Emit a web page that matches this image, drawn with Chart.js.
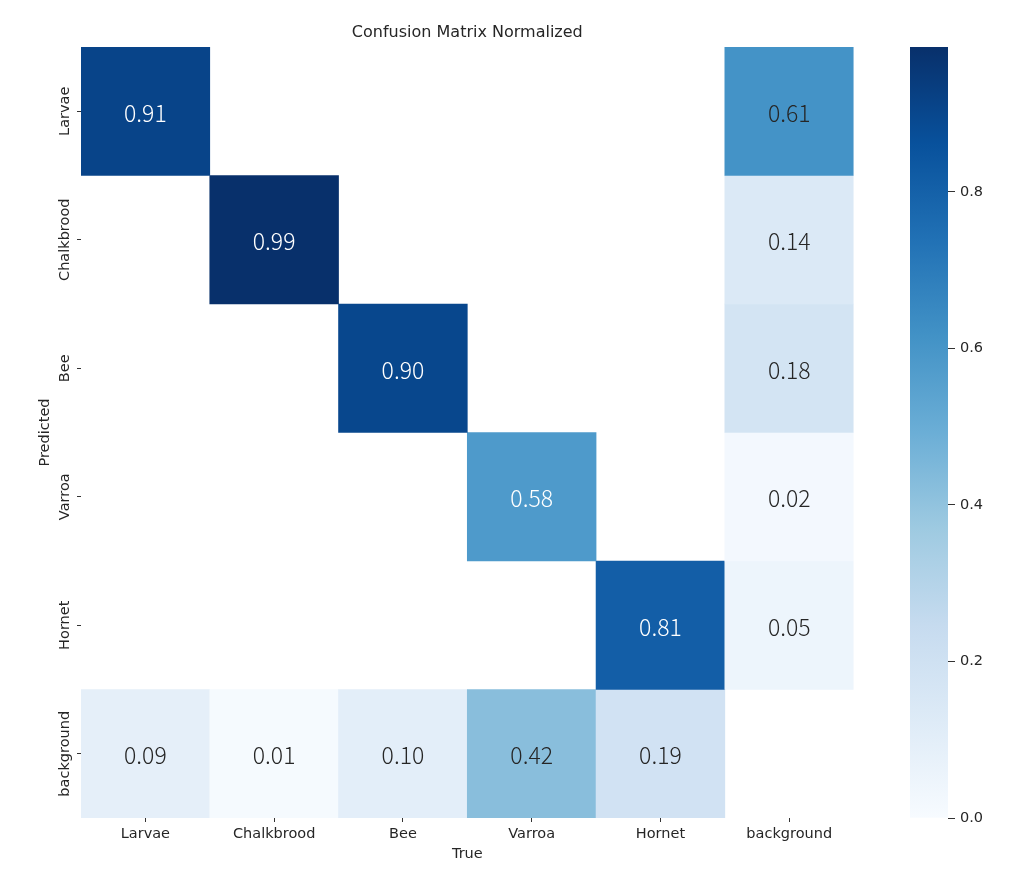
<!DOCTYPE html>
<html>
<head>
<meta charset="utf-8">
<script src="https://cdn.jsdelivr.net/npm/chart.js@4.4.1/dist/chart.umd.min.js"></script>
<style>
  html, body { margin: 0; padding: 0; background: #ffffff; }
  #wrap { position: relative; width: 1015px; height: 879px; }
  #main { position: absolute; left: 0; top: 0; }
  #cbar { position: absolute; left: 880px; top: 0; }
</style>
</head>
<body>
<div id="wrap">
  <canvas id="main" width="1015" height="879"></canvas>
  <canvas id="cbar" width="135" height="879"></canvas>
</div>
<script>
// ---- data ----
const trueLabels = ['Larvae', 'Chalkbrood', 'Bee', 'Varroa', 'Hornet', 'background'];
const predictedLabels = ['Larvae', 'Chalkbrood', 'Bee', 'Varroa', 'Hornet', 'background'];
const rowLarvae     = [0.91, null, null, null, null, 0.61];
const rowChalkbrood = [null, 0.99, null, null, null, 0.14];
const rowBee        = [null, null, 0.90, null, null, 0.18];
const rowVarroa     = [null, null, null, 0.58, null, 0.02];
const rowHornet     = [null, null, null, null, 0.81, 0.05];
const rowBackground = [0.09, 0.01, 0.10, 0.42, 0.19, null];
const colorbarTicks = [0.0, 0.2, 0.4, 0.6, 0.8];
const colorMax = 0.985;

const matrix = [rowLarvae, rowChalkbrood, rowBee, rowVarroa, rowHornet, rowBackground];

// ---- Blues colormap ----
const BLUES = ['#f7fbff', '#deebf7', '#c6dbef', '#9ecae1', '#6baed6', '#4292c6', '#2171b5', '#08519c', '#08306b'];
function hexToRgb(h) { return [parseInt(h.slice(1,3),16), parseInt(h.slice(3,5),16), parseInt(h.slice(5,7),16)]; }
const BLUES_RGB = BLUES.map(hexToRgb);
function blues(t) {
  t = Math.max(0, Math.min(1, t));
  const s = t * (BLUES_RGB.length - 1);
  const i = Math.min(Math.floor(s), BLUES_RGB.length - 2);
  const f = s - i;
  const a = BLUES_RGB[i], b = BLUES_RGB[i + 1];
  return [0,1,2].map(k => Math.round(a[k] + (b[k] - a[k]) * f));
}
function rgbStr(c) { return 'rgb(' + c.join(',') + ')'; }
function luminance(c) {
  const lin = c.map(v => { v /= 255; return v <= 0.03928 ? v / 12.92 : Math.pow((v + 0.055) / 1.055, 2.4); });
  return 0.2126 * lin[0] + 0.7152 * lin[1] + 0.0722 * lin[2];
}

const LABEL_FONT = { family: 'DejaVu Sans', size: 14.5, weight: 'normal' };
const TITLE_FONT = { family: 'DejaVu Sans', size: 16, weight: 'normal' };
const TEXT_COLOR = '#262626';
const TICK_COLOR = '#333333';

const datasets = matrix.map((row, r) => ({
  label: predictedLabels[r],
  data: row.map(v => v == null ? null : [r, r + 1]),
  backgroundColor: row.map(v => v == null ? 'rgba(0,0,0,0)' : rgbStr(blues(v / colorMax))),
  borderWidth: 0,
  grouped: false,
  barPercentage: 1.0,
  categoryPercentage: 1.0
}));

const annotatePlugin = {
  id: 'annotate',
  afterDatasetsDraw(chart) {
    const ctx = chart.ctx;
    ctx.save();
    ctx.textAlign = 'center';
    ctx.textBaseline = 'middle';
    ctx.font = '300 23px "Noto Sans CJK KR", "DejaVu Sans", sans-serif';
    matrix.forEach((row, r) => {
      const meta = chart.getDatasetMeta(r);
      row.forEach((v, c) => {
        if (v == null) return;
        const el = meta.data[c];
        const x = el.x;
        const y = (el.y + el.base) / 2;
        const col = blues(v / colorMax);
        const light = luminance(col) < 0.408 && c < trueLabels.length - 1;
        ctx.fillStyle = light ? '#ffffff' : TEXT_COLOR;
        ctx.fillText(v.toFixed(2), x, y + 2);
      });
    });
    // y tick labels (rotated)
    const ys = chart.scales.y;
    ctx.font = '14.5px "DejaVu Sans"';
    ctx.fillStyle = TEXT_COLOR;
    predictedLabels.forEach((lab, r) => {
      const py = ys.getPixelForValue(r + 0.5);
      ctx.save();
      ctx.translate(65, py);
      ctx.rotate(-Math.PI / 2);
      ctx.fillText(lab, 0, 0);
      ctx.restore();
    });
    ctx.restore();
  }
};

new Chart(document.getElementById('main'), {
  type: 'bar',
  data: { labels: trueLabels, datasets },
  options: {
    responsive: false,
    animation: false,
    devicePixelRatio: 1,
    layout: { padding: { left: 0, right: 161.4, top: 0, bottom: 0 } },
    plugins: {
      legend: { display: false },
      tooltip: { enabled: false },
      title: {
        display: true,
        text: 'Confusion Matrix Normalized',
        fullSize: false,
        color: TEXT_COLOR,
        font: TITLE_FONT,
        padding: { top: 23.4, bottom: 4.4 }
      }
    },
    scales: {
      x: {
        type: 'category',
        position: 'bottom',
        offset: true,
        grid: { drawOnChartArea: false, drawTicks: true, tickLength: 4, color: TICK_COLOR, offset: false },
        border: { display: false },
        ticks: { color: TEXT_COLOR, font: LABEL_FONT, padding: 4, maxRotation: 0, minRotation: 0 },
        title: { display: true, text: 'True', color: TEXT_COLOR, font: LABEL_FONT, padding: { top: 0, bottom: 16.3 } },
        afterFit(s) { s.height = 61; }
      },
      y: {
        type: 'linear',
        position: 'left',
        min: 0,
        max: 6,
        reverse: true,
        afterBuildTicks(s) { s.ticks = predictedLabels.map((_, i) => ({ value: i + 0.5 })); },
        grid: { drawOnChartArea: false, drawTicks: true, tickLength: 4, color: TICK_COLOR },
        border: { display: false },
        ticks: { display: false },
        title: { display: true, text: 'Predicted', color: TEXT_COLOR, font: LABEL_FONT, padding: { top: 36.3, bottom: 0 } },
        afterFit(s) { s.width = 81; }
      }
    }
  },
  plugins: [annotatePlugin]
});

// ---- colorbar ----
new Chart(document.getElementById('cbar'), {
  type: 'bar',
  data: {
    labels: ['scale'],
    datasets: [{
      data: [[0, colorMax]],
      borderWidth: 0,
      barPercentage: 1.0,
      categoryPercentage: 1.0,
      backgroundColor(ctx) {
        const chart = ctx.chart;
        const area = chart.chartArea;
        if (!area) return BLUES[4];
        const g = chart.ctx.createLinearGradient(0, area.bottom, 0, area.top);
        BLUES.forEach((c, i) => g.addColorStop(i / (BLUES.length - 1), c));
        return g;
      }
    }]
  },
  options: {
    responsive: false,
    animation: false,
    devicePixelRatio: 1,
    layout: { padding: { left: 30, right: 0, top: 47, bottom: 61 } },
    plugins: { legend: { display: false }, tooltip: { enabled: false }, title: { display: false } },
    scales: {
      x: { type: 'category', display: false, offset: true },
      y: {
        type: 'linear',
        position: 'right',
        min: 0,
        max: colorMax,
        afterBuildTicks(s) { s.ticks = colorbarTicks.map(v => ({ value: v })); },
        grid: { drawOnChartArea: false, drawTicks: true, tickLength: 7, color: TICK_COLOR },
        border: { display: false },
        ticks: { color: TEXT_COLOR, font: LABEL_FONT, padding: 5, callback: v => Number(v).toFixed(1) },
        afterFit(s) { s.width = 67; }
      }
    }
  }
});
</script>
</body>
</html>
